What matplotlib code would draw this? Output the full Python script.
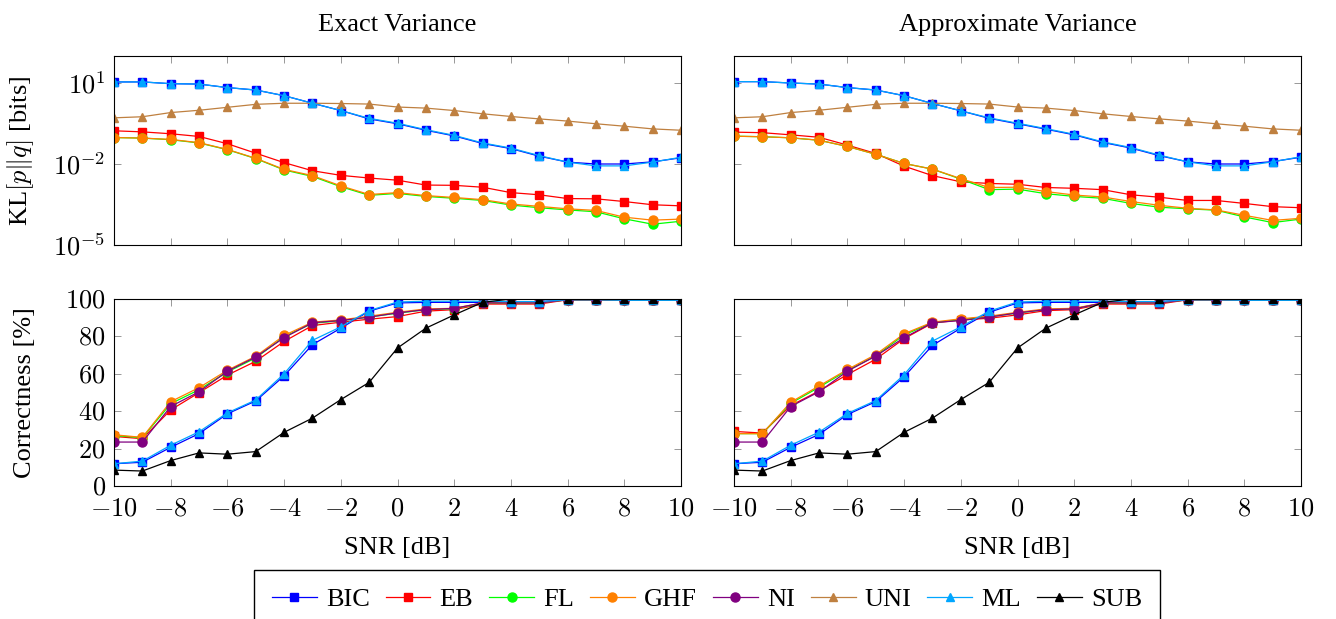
import numpy as np
import matplotlib
matplotlib.use('Agg')
import matplotlib.pyplot as plt
from matplotlib.ticker import FuncFormatter

plt.rcParams['font.family'] = ['Liberation Serif', 'DejaVu Serif']
plt.rcParams['mathtext.fontset'] = 'cm'
plt.rcParams['font.size'] = 19

snr = np.arange(-10, 11)

# ---- KL divergence (log10 values), exact variance
kl_bic_l = [1.04, 1.04, 0.975, 0.96, 0.83, 0.74, 0.53, 0.25, -0.02, -0.33, -0.51,
            -0.75, -0.96, -1.24, -1.43, -1.71, -1.93, -2.0, -2.0, -1.92, -1.77]
kl_ml_l = [1.04, 1.04, 0.975, 0.96, 0.83, 0.74, 0.53, 0.25, -0.02, -0.31, -0.49,
           -0.73, -0.94, -1.22, -1.41, -1.69, -1.93, -2.07, -2.07, -1.93, -1.75]
kl_uni_l = [-0.29, -0.25, -0.095, -0.01, 0.10, 0.21, 0.25, 0.25, 0.24, 0.22, 0.11,
            0.07, -0.02, -0.14, -0.24, -0.33, -0.41, -0.51, -0.60, -0.70, -0.75]
kl_eb_l = [-0.77, -0.81, -0.88, -0.98, -1.25, -1.60, -1.95, -2.25, -2.42, -2.52, -2.60,
           -2.78, -2.79, -2.86, -3.06, -3.14, -3.28, -3.29, -3.39, -3.51, -3.55]
kl_ghf_l = [-1.02, -1.04, -1.09, -1.21, -1.46, -1.79, -2.20, -2.43, -2.81, -3.13, -3.06,
            -3.17, -3.24, -3.32, -3.48, -3.57, -3.66, -3.72, -3.97, -4.08, -4.04]
kl_fl_l = [-1.02, -1.04, -1.10, -1.22, -1.47, -1.80, -2.22, -2.46, -2.84, -3.16, -3.09,
           -3.20, -3.27, -3.35, -3.52, -3.62, -3.70, -3.77, -4.03, -4.23, -4.12]

# ---- KL divergence (log10 values), approximate variance
kl_bic_r = [1.05, 1.05, 1.0, 0.96, 0.83, 0.74, 0.53, 0.24, -0.03, -0.31, -0.51,
            -0.71, -0.92, -1.20, -1.41, -1.69, -1.92, -2.0, -2.0, -1.91, -1.75]
kl_ml_r = [1.05, 1.05, 1.0, 0.96, 0.83, 0.74, 0.53, 0.24, -0.03, -0.29, -0.49,
           -0.69, -0.90, -1.18, -1.39, -1.67, -1.92, -2.07, -2.07, -1.92, -1.73]
kl_uni_r = kl_uni_l
kl_eb_r = [-0.82, -0.84, -0.92, -1.01, -1.30, -1.61, -2.08, -2.43, -2.66, -2.72, -2.75,
           -2.87, -2.90, -2.95, -3.14, -3.23, -3.35, -3.35, -3.46, -3.58, -3.62]
kl_ghf_r = [-0.97, -0.99, -1.03, -1.12, -1.35, -1.64, -1.98, -2.19, -2.54, -2.87, -2.86,
            -3.02, -3.15, -3.22, -3.39, -3.53, -3.64, -3.70, -3.90, -4.09, -4.01]
kl_fl_r = [-0.97, -0.99, -1.03, -1.12, -1.35, -1.64, -1.98, -2.19, -2.56, -2.95, -2.93,
           -3.10, -3.20, -3.27, -3.46, -3.60, -3.66, -3.71, -3.96, -4.17, -4.04]

# ---- correctness [%], exact variance
c_bic_l = [11.9, 12.7, 20.7, 28.0, 38.6, 45.5, 58.9, 75.6, 84.4, 93.5, 97.9,
           98.2, 98.2, 98.2, 98.6, 98.6, 99.6, 99.6, 99.3, 99.3, 99.3]
c_ml_l = [11.9, 13.3, 21.8, 29.0, 39.1, 46.0, 60.0, 77.9, 85.1, 93.8, 98.4,
          98.8, 98.8, 98.8, 98.6, 98.6, 99.6, 99.6, 99.3, 99.3, 99.3]
c_eb_l = [26.5, 25.3, 40.7, 49.9, 59.3, 66.7, 77.3, 85.8, 87.6, 89.2, 90.6,
          93.5, 94.3, 97.3, 97.3, 97.3, 99.6, 99.6, 99.6, 99.6, 99.6]
c_fl_l = [27.0, 25.8, 44.0, 51.5, 61.0, 68.5, 79.8, 87.0, 88.4, 90.4, 92.4,
          94.3, 94.8, 97.7, 97.7, 98.0, 99.6, 99.6, 99.6, 99.6, 99.6]
c_ghf_l = [27.4, 26.0, 45.1, 52.6, 61.9, 69.4, 80.5, 87.6, 88.8, 90.8, 92.9,
           94.7, 95.0, 97.9, 97.9, 98.2, 99.6, 99.6, 99.6, 99.6, 99.6]
c_ni_l = [23.5, 23.5, 42.5, 50.4, 61.4, 69.0, 79.3, 87.3, 88.5, 90.3, 92.6,
          94.3, 95.0, 97.9, 97.9, 97.9, 99.6, 99.6, 99.6, 99.6, 99.6]
c_sub_l = [8.5, 8.0, 13.6, 17.7, 17.0, 18.4, 28.7, 36.3, 46.2, 55.4, 73.8,
           84.4, 91.5, 98.2, 100, 100, 100, 100, 100, 100, 100]

# ---- correctness [%], approximate variance
c_bic_r = [11.9, 12.7, 20.7, 27.6, 38.2, 45.1, 58.4, 75.2, 84.4, 92.9, 97.9,
           98.2, 98.2, 98.2, 98.6, 98.6, 99.6, 99.6, 99.3, 99.3, 99.3]
c_ml_r = [11.9, 13.3, 21.8, 28.8, 38.8, 45.7, 59.5, 77.5, 85.1, 93.5, 98.4,
          98.8, 98.8, 98.8, 98.6, 98.6, 99.6, 99.6, 99.3, 99.3, 99.3]
c_eb_r = [29.2, 28.3, 43.0, 50.8, 59.6, 67.8, 78.8, 87.1, 88.8, 89.7, 91.5,
          93.8, 94.3, 97.3, 97.3, 97.3, 99.6, 99.6, 99.6, 99.6, 99.6]
c_fl_r = [28.0, 28.0, 44.2, 52.8, 61.8, 69.6, 80.8, 87.3, 89.0, 90.5, 92.5,
          94.4, 94.8, 97.7, 97.7, 98.0, 99.6, 99.6, 99.6, 99.6, 99.6]
c_ghf_r = [28.0, 28.0, 44.8, 53.5, 62.3, 70.3, 81.4, 87.6, 89.4, 90.8, 92.9,
           94.7, 95.0, 97.9, 97.9, 98.2, 99.6, 99.6, 99.6, 99.6, 99.6]
c_ni_r = [23.5, 23.5, 42.5, 50.4, 61.4, 69.5, 79.3, 87.3, 88.5, 90.3, 92.6,
          94.3, 94.7, 97.9, 97.9, 97.9, 99.6, 99.6, 99.6, 99.6, 99.6]
c_sub_r = c_sub_l

names = ['BIC', 'EB', 'FL', 'GHF', 'NI', 'UNI', 'ML', 'SUB']
colors = {'BIC': '#0000ff', 'EB': '#ff0000', 'FL': '#00ff00', 'GHF': '#ff8000',
          'NI': '#800080', 'UNI': '#bf8040', 'ML': '#00a6ff', 'SUB': '#000000'}
markers = {'BIC': 's', 'EB': 's', 'FL': 'o', 'GHF': 'o', 'NI': 'o',
           'UNI': '^', 'ML': '^', 'SUB': '^'}
msize = {'s': 6, 'o': 6.5, '^': 6}

W, H = 1336, 619
fig = plt.figure(figsize=(W / 100, H / 100), dpi=100)

def box(x0, x1, y0, y1):
    return [x0 / W, 1 - y1 / H, (x1 - x0) / W, (y1 - y0) / H]

ax_tl = fig.add_axes(box(114, 681, 56, 245))
ax_tr = fig.add_axes(box(734, 1301, 56, 245))
ax_bl = fig.add_axes(box(114, 681, 299, 486))
ax_br = fig.add_axes(box(734, 1301, 299, 486))

def draw(ax, name, y):
    m = markers[name]
    return ax.plot(snr, y, color=colors[name], marker=m, ms=msize[m],
                   lw=0.9, label=name)[0]

kl_sets = [
    (ax_tl, {'BIC': kl_bic_l, 'EB': kl_eb_l, 'FL': kl_fl_l, 'GHF': kl_ghf_l,
             'UNI': kl_uni_l, 'ML': kl_ml_l}),
    (ax_tr, {'BIC': kl_bic_r, 'EB': kl_eb_r, 'FL': kl_fl_r, 'GHF': kl_ghf_r,
             'UNI': kl_uni_r, 'ML': kl_ml_r}),
]
for ax, d in kl_sets:
    for n in names:
        if n in d:
            draw(ax, n, 10.0 ** np.array(d[n]))
    ax.set_yscale('log')
    ax.set_ylim(1e-5, 1e2)
    ax.set_yticks([1e-5, 1e-2, 1e1])
    ax.minorticks_off()
    ax.yaxis.set_major_formatter(FuncFormatter(lambda v, p: r'$10^{%d}$' % round(np.log10(v))))
    ax.set_xticklabels([])

c_sets = [
    (ax_bl, {'BIC': c_bic_l, 'EB': c_eb_l, 'FL': c_fl_l, 'GHF': c_ghf_l,
             'NI': c_ni_l, 'ML': c_ml_l, 'SUB': c_sub_l}),
    (ax_br, {'BIC': c_bic_r, 'EB': c_eb_r, 'FL': c_fl_r, 'GHF': c_ghf_r,
             'NI': c_ni_r, 'ML': c_ml_r, 'SUB': c_sub_r}),
]
for ax, d in c_sets:
    for n in names:
        if n in d:
            draw(ax, n, d[n])
    ax.set_ylim(0, 100)
    ax.set_yticks([0, 20, 40, 60, 80, 100])
    ax.yaxis.set_major_formatter(FuncFormatter(lambda v, p: r'$%d$' % v))
    ax.xaxis.set_major_formatter(FuncFormatter(lambda v, p: r'$%d$' % v))

for ax in [ax_tl, ax_tr, ax_bl, ax_br]:
    ax.set_xlim(-10, 10)
    ax.set_xticks(np.arange(-10, 11, 2))
    ax.tick_params(direction='in', top=True, right=True, length=5,
                   width=0.6, color='#888888', pad=6)
    for s in ax.spines.values():
        s.set_linewidth(0.8)

for ax in [ax_bl, ax_br]:
    ax.tick_params(axis='x', pad=9)
    ax.set_xlabel('SNR [dB]', labelpad=12)

for ax in [ax_tr, ax_br]:
    ax.set_yticklabels([])

ax_tl.set_title('Exact Variance', pad=18, fontsize=19)
ax_tr.set_title('Approximate Variance', pad=18, fontsize=19)
ax_tl.set_ylabel(r'KL$[p\Vert q]$ [bits]')
ax_bl.set_ylabel('Correctness [%]')
ax_tl.yaxis.set_label_coords(-0.137, 0.5)
ax_bl.yaxis.set_label_coords(-0.137, 0.5)

# legend entries in fixed order
handles = []
for n in names:
    m = markers[n]
    h, = ax_bl.plot([], [], color=colors[n], marker=m, ms=msize[m], lw=0.9, label=n)
    handles.append(h)
fig.legend(handles=handles, labels=names, loc='upper center', ncol=8,
           bbox_to_anchor=(707 / W, 1 - 570 / H), frameon=True, fancybox=False,
           edgecolor='black', framealpha=1, handlelength=1.7, columnspacing=0.6,
           handletextpad=0.35, borderpad=0.67, borderaxespad=0)

fig.savefig('out.png', dpi=100)
